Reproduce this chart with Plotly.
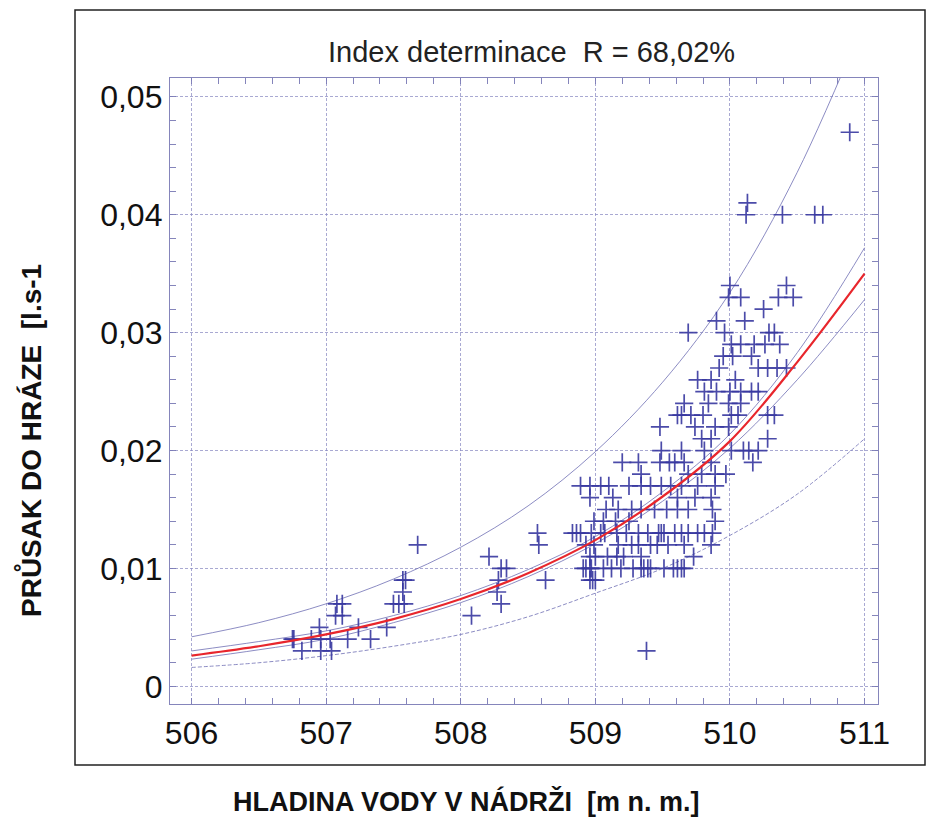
import plotly.graph_objects as go

# ---------------- data ----------------
fit_x = [506.0, 506.5, 507.0, 507.5, 508.0, 508.5, 509.0, 509.5, 510.0, 510.5, 511.0]
fit_y = [0.0026, 0.0034, 0.0044, 0.0057, 0.0074, 0.0096, 0.0124, 0.0161, 0.0208, 0.0275, 0.0350]
ci_up = [0.0030, 0.0038, 0.0047, 0.0060, 0.0077, 0.0099, 0.0127, 0.0165, 0.0214, 0.0283, 0.0372]
ci_lo = [0.0023, 0.0031, 0.0040, 0.0054, 0.0071, 0.0093, 0.0121, 0.0157, 0.0202, 0.0260, 0.0328]
pi_up = [0.0042, 0.0054, 0.0070, 0.0091, 0.0118, 0.0153, 0.0199, 0.0258, 0.0334, 0.0436, 0.0565]
pi_lo = [0.0016, 0.0020, 0.0026, 0.0034, 0.0044, 0.0059, 0.0079, 0.0100, 0.0128, 0.0163, 0.0210]

# measured points: hladina [m n. m.] , prusak [l/s]
pts_x = [
    506.75, 506.76, 506.82, 506.89, 506.95, 506.96, 506.96, 507.03, 507.04, 507.07,
    507.08, 507.12, 507.12, 507.16, 507.24, 507.33, 507.45, 507.50, 507.54, 507.58,
    507.57, 507.57, 507.59, 507.68, 508.08, 508.21, 508.28, 508.27, 508.30, 508.34,
    508.30, 508.57, 508.58, 508.63, 509.38,
]
pts_y = [
    0.004, 0.004, 0.003, 0.004, 0.005, 0.004, 0.003, 0.004, 0.003, 0.006,
    0.007, 0.007, 0.006, 0.004, 0.005, 0.004, 0.005, 0.007, 0.007, 0.007,
    0.008, 0.009, 0.009, 0.012, 0.006, 0.011, 0.009, 0.008, 0.010, 0.010,
    0.007, 0.013, 0.012, 0.009, 0.003,
]

# dense cluster, one list of water levels per seepage value
row_values = [0.009, 0.010, 0.011, 0.012, 0.013, 0.014, 0.015, 0.016, 0.017, 0.018,
              0.019, 0.020, 0.021, 0.022, 0.023, 0.024, 0.025, 0.026, 0.027, 0.028,
              0.029, 0.030, 0.031, 0.032, 0.033, 0.034, 0.040, 0.041, 0.047]
row_levels = [
    [508.96, 508.98, 509.00],
    [508.91, 508.93, 508.96, 508.97, 509.06, 509.12, 509.19, 509.28, 509.34, 509.36,
     509.39, 509.41, 509.51, 509.58, 509.61, 509.64, 509.66],
    [508.96, 509.00, 509.09, 509.16, 509.21, 509.34, 509.73],
    [508.93, 508.99, 509.17, 509.27, 509.32, 509.41, 509.46, 509.54, 509.66, 509.86],
    [508.83, 508.86, 508.89, 508.97, 509.04, 509.07, 509.16, 509.23, 509.32, 509.39,
     509.47, 509.49, 509.51, 509.59, 509.64, 509.69, 509.76, 509.81, 509.87],
    [508.99, 509.06, 509.15, 509.25, 509.89],
    [509.08, 509.17, 509.27, 509.34, 509.44, 509.53, 509.61, 509.69, 509.87],
    [508.96, 509.13, 509.61, 509.74, 509.86],
    [508.89, 508.96, 509.04, 509.10, 509.25, 509.34, 509.41, 509.49, 509.56, 509.64,
     509.76, 509.89],
    [509.34, 509.69, 509.79, 509.89, 509.97],
    [509.20, 509.32, 509.48, 509.55, 509.59, 509.66, 509.86, 510.17],
    [509.49, 509.64, 509.81, 510.01, 510.10, 510.14, 510.21],
    [509.79, 509.86, 510.28],
    [509.48, 509.74, 509.89, 509.99],
    [509.61, 509.64, 509.71, 509.80, 510.01, 510.06, 510.28, 510.33],
    [509.66, 509.84, 509.99, 510.08],
    [509.81, 509.90, 510.00, 510.08, 510.16, 510.21],
    [509.76, 509.86, 510.04],
    [509.92, 510.21, 510.28, 510.35, 510.42],
    [509.95, 510.02, 510.16],
    [510.01, 510.08, 510.18, 510.26, 510.37],
    [509.69, 509.96, 510.29, 510.33],
    [509.90, 510.11],
    [510.25],
    [509.99, 510.08, 510.36, 510.47],
    [510.00, 510.42],
    [510.12, 510.39, 510.63, 510.69],
    [510.13],
    [510.89],
]

x_ticks = [506, 507, 508, 509, 510, 511]
x_ticktext = ["506", "507", "508", "509", "510", "511"]
y_ticks = [0, 0.01, 0.02, 0.03, 0.04, 0.05]
y_ticktext = ["0", "0,01", "0,02", "0,03", "0,04", "0,05"]

title_text = "Index determinace  R = 68,02%"
x_title = "HLADINA VODY V NÁDRŽI  [m n. m.]"
y_title = "PRŮSAK DO HRÁZE  [l.s-1"

# ---------------- build ----------------
all_x = list(pts_x)
all_y = list(pts_y)
for v, lv in zip(row_values, row_levels):
    all_x += lv
    all_y += [v] * len(lv)

band_col = "rgba(120,120,185,0.85)"
pt_col = "rgba(55,55,160,0.9)"
frame_col = "rgba(120,120,180,0.9)"

fig = go.Figure()
for ys, dash in [(pi_up, "solid"), (pi_lo, "4px,2px"), (ci_up, "solid"), (ci_lo, "solid")]:
    fig.add_trace(go.Scatter(x=fit_x, y=ys, mode="lines", line_shape="spline",
                             line=dict(color=band_col, width=1, dash=dash),
                             hoverinfo="skip", showlegend=False))
fig.add_trace(go.Scatter(x=all_x, y=all_y, mode="markers",
                         marker=dict(symbol="cross-thin", size=13,
                                     line=dict(color=pt_col, width=1.7)),
                         showlegend=False))
fig.add_trace(go.Scatter(x=fit_x, y=fit_y, mode="lines", line_shape="spline",
                         line=dict(color="#e8262c", width=2.2), showlegend=False))

axis_common = dict(
    showgrid=True, gridcolor="rgba(140,140,195,0.75)", gridwidth=1, griddash="3px,2px",
    zeroline=False, showline=True, linecolor=frame_col, linewidth=1.3,
    mirror="allticks", ticks="inside", ticklen=0, tickcolor=frame_col,
    tickfont=dict(family="Liberation Sans, Arial", size=32, color="#111"),
)
fig.update_xaxes(range=[505.84, 511.1], tickvals=x_ticks, ticktext=x_ticktext,
                 minor=dict(dtick=0.2, ticks="inside", ticklen=6,
                            tickcolor=frame_col, showgrid=False),
                 **axis_common)
fig.update_yaxes(range=[-0.0015, 0.0516], tickvals=y_ticks, ticktext=y_ticktext,
                 minor=dict(dtick=0.002, tick0=0, ticks="inside", ticklen=6,
                            tickcolor=frame_col, showgrid=False),
                 **axis_common)

L, R, T, B = 170, 51, 78, 114
W, H = 929, 818
pw, ph = W - L - R, H - T - B

def px(xp):
    return (xp - L) / pw

def py(yp):
    return (H - B - yp) / ph

fig.add_shape(type="rect", xref="paper", yref="paper",
              x0=px(75), x1=px(925), y0=py(765), y1=py(10),
              line=dict(color="#222", width=1.5), layer="below")

fig.add_annotation(text=title_text, xref="paper", yref="paper", x=px(531), y=py(52),
                   xanchor="center", yanchor="middle", showarrow=False,
                   font=dict(family="Liberation Sans, Arial", size=29, color="#222"))
fig.add_annotation(text="<b>" + x_title + "</b>", xref="paper", yref="paper",
                   x=px(466), y=py(801), xanchor="center", yanchor="middle", showarrow=False,
                   font=dict(family="Liberation Sans, Arial", size=27, color="#111"))
fig.add_annotation(text="<b>" + y_title + "</b>", xref="paper", yref="paper",
                   x=px(30), y=py(441), xanchor="center", yanchor="middle",
                   showarrow=False, textangle=-90,
                   font=dict(family="Liberation Sans, Arial", size=28, color="#111"))

fig.update_layout(width=W, height=H, margin=dict(l=L, r=R, t=T, b=B),
                  paper_bgcolor="white", plot_bgcolor="white", showlegend=False)

fig.write_html("out.html")
